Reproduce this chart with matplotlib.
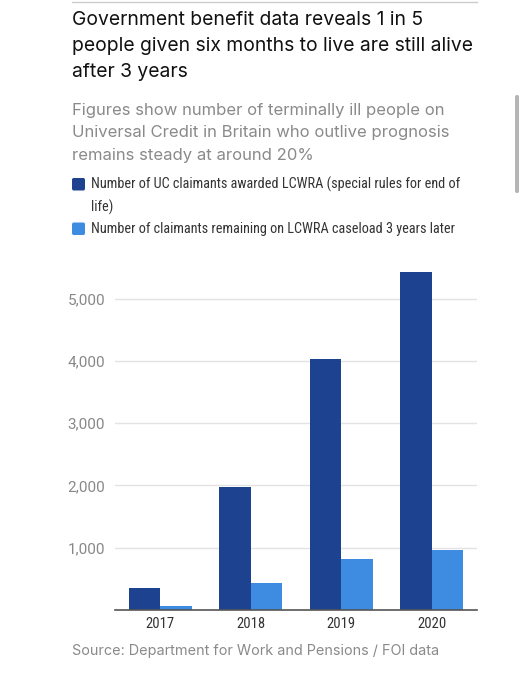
import matplotlib
matplotlib.use("Agg")
import matplotlib.pyplot as plt
from matplotlib import font_manager
from matplotlib.patches import FancyBboxPatch
import numpy as np

years = ["2017", "2018", "2019", "2020"]
awarded = [360, 1980, 4030, 5430]
remaining = [70, 430, 820, 960]
yticks = [1000, 2000, 3000, 4000, 5000]
ytick_labels = ["1,000", "2,000", "3,000", "4,000", "5,000"]

title = "Government benefit data reveals 1 in 5\npeople given six months to live are still alive\nafter 3 years"
subtitle = "Figures show number of terminally ill people on\nUniversal Credit in Britain who outlive prognosis\nremains steady at around 20%"
legend1 = "Number of UC claimants awarded LCWRA (special rules for end of\nlife)"
legend2 = "Number of claimants remaining on LCWRA caseload 3 years later"
source = "Source: Department for Work and Pensions / FOI data"

DARK = "#1c4290"
LIGHT = "#3e8ce2"

avail = {f.name for f in font_manager.fontManager.ttflist}
def pick(cands):
    for c in cands:
        if c in avail:
            return c
    return "DejaVu Sans"

main_font = pick(["Inter", "Open Sans", "Lato", "DejaVu Sans"])
cond_font = pick(["Liberation Sans Narrow", "Roboto Condensed", "Open Sans Condensed", "Roboto", "DejaVu Sans"])
num_font = pick(["Roboto", "Open Sans", "DejaVu Sans"])

W, H = 525, 680
fig = plt.figure(figsize=(W / 100, H / 100), dpi=100)
fig.patch.set_facecolor("white")

def fx(px):
    return px / W
def fy(py):
    return 1 - py / H

# top rule
fig.add_artist(plt.Line2D([fx(72), fx(477)], [fy(2), fy(2)], color="#cccccc", lw=1))

fig.text(fx(72), fy(11), title, ha="left", va="top", fontsize=13.9, color="#111111",
         family=main_font, linespacing=1.57)
fig.text(fx(72), fy(103), subtitle, ha="left", va="top", fontsize=12.0, color="#8a8a8a",
         family=main_font, linespacing=1.62)

# legend squares
for yc, col in [(184.5, DARK), (229, LIGHT)]:
    fig.add_artist(FancyBboxPatch((fx(72), fy(yc + 6)), fx(13), 12.5 / H,
                                  boxstyle="round,pad=0,rounding_size=0.003",
                                  transform=fig.transFigure, facecolor=col, edgecolor="none"))
fig.text(fx(91), fy(177), legend1, ha="left", va="top", fontsize=10.3, color="#333333",
         family=cond_font, linespacing=1.6)
fig.text(fx(91), fy(229), legend2, ha="left", va="center", fontsize=10.3, color="#333333",
         family=cond_font)

# scrollbar artifact
fig.add_artist(FancyBboxPatch((fx(515), fy(193)), fx(4), 98 / H,
                              boxstyle="round,pad=0,rounding_size=0.003",
                              transform=fig.transFigure, facecolor="#b5b5b5", edgecolor="none"))

ymax = 5500
top_px = 610 - ymax / 1000 * 62.3
ax = fig.add_axes([fx(115), fy(610), fx(477) - fx(115), (610 - top_px) / H])
x = np.arange(len(years))
bw = 0.35
ax.bar(x - bw / 2, awarded, width=bw, color=DARK, zorder=3)
ax.bar(x + bw / 2, remaining, width=bw, color=LIGHT, zorder=3)
ax.set_xlim(-0.5, 3.5)
ax.set_ylim(0, ymax)
ax.set_yticks(yticks)
ax.set_yticklabels(ytick_labels)
ax.grid(axis="y", color="#e3e3e3", lw=1, zorder=0)
for s in ["top", "right", "left"]:
    ax.spines[s].set_visible(False)
ax.spines["bottom"].set_color("#555555")
ax.spines["bottom"].set_linewidth(1.2)
ax.spines["bottom"].set_zorder(4)
ax.set_xticks(x)
ax.set_xticklabels(years)
ax.tick_params(axis="x", length=0, pad=5, labelsize=10.5, labelcolor="#333333")
ax.tick_params(axis="y", length=0, pad=7, labelsize=11, labelcolor="#888888")
for lab in ax.get_xticklabels():
    lab.set_family(cond_font)
for lab in ax.get_yticklabels():
    lab.set_family(num_font)

fig.text(fx(72), fy(651), source, ha="left", va="center", fontsize=10.4, color="#8a8a8a",
         family=main_font)

fig.savefig("out.png", dpi=100, facecolor="white")
